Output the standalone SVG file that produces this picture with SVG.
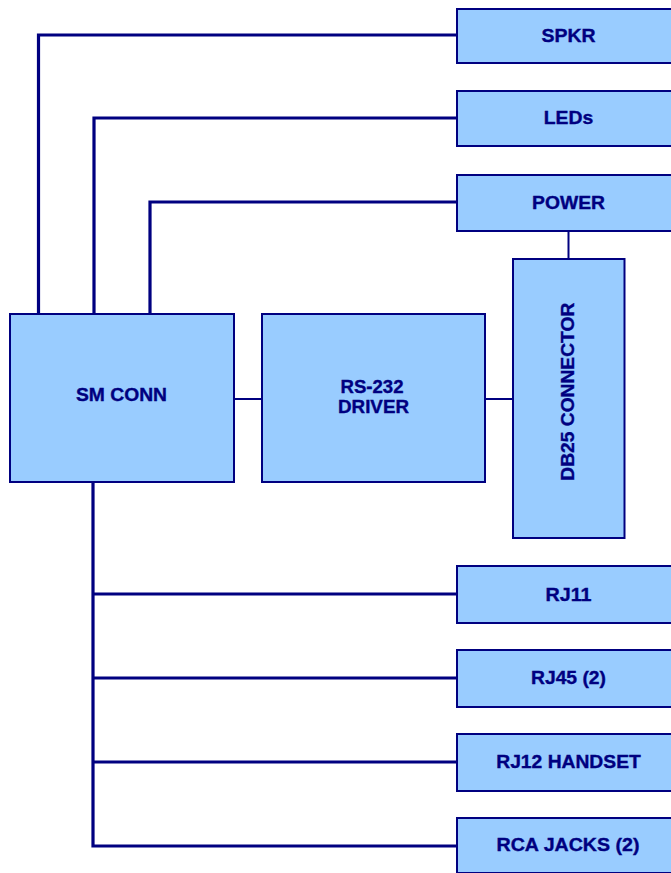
<svg xmlns="http://www.w3.org/2000/svg" width="671" height="873" viewBox="0 0 671 873">
<style>
.box{fill:#99CCFF;stroke:#000080;stroke-width:2}
.wire{fill:none;stroke:#000080;stroke-width:3.2;stroke-linejoin:miter;stroke-linecap:butt}
.lbl{font-family:"Liberation Sans",Arial,sans-serif;font-weight:bold;font-size:17.5px;fill:#000080;stroke:#000080;stroke-width:0.35;text-anchor:middle}
</style>
<rect width="671" height="873" fill="#ffffff"/>
<g id="connectors">
<path class="wire" d="M457,35 H38.5 V314"/>
<path class="wire" d="M457,118 H94 V314"/>
<path class="wire" d="M457,202 H150 V314"/>
<path class="wire" d="M568.5,231 V259" style="stroke-width:2"/>
<path class="wire" d="M234,399 H262" style="stroke-width:2"/>
<path class="wire" d="M485,399 H513" style="stroke-width:2"/>
<path class="wire" d="M93,482 V846 H457"/>
<path class="wire" d="M93,594 H457"/>
<path class="wire" d="M93,678 H457"/>
<path class="wire" d="M93,762 H457"/>
</g>
<g id="spkr"><rect class="box" x="457" y="9" width="230" height="54"/><text class="lbl" x="568.5" y="41.5" textLength="54" lengthAdjust="spacingAndGlyphs">SPKR</text></g>
<g id="leds"><rect class="box" x="457" y="91" width="230" height="55"/><text class="lbl" x="568.5" y="124" textLength="49.5" lengthAdjust="spacingAndGlyphs">LEDs</text></g>
<g id="power"><rect class="box" x="457" y="175" width="230" height="56"/><text class="lbl" x="568.5" y="209" textLength="73" lengthAdjust="spacingAndGlyphs">POWER</text></g>
<g id="smconn"><rect class="box" x="10" y="314" width="224" height="168"/><text class="lbl" x="121.5" y="401" textLength="91" lengthAdjust="spacingAndGlyphs">SM CONN</text></g>
<g id="rs232"><rect class="box" x="262" y="314" width="223" height="168"/><text class="lbl" x="372" y="392.5" textLength="63" lengthAdjust="spacingAndGlyphs">RS-232</text><text class="lbl" x="373.5" y="412.5" textLength="71" lengthAdjust="spacingAndGlyphs">DRIVER</text></g>
<g id="db25"><rect class="box" x="513" y="259" width="111.5" height="279"/><text class="lbl" transform="translate(574,391.7) rotate(-90)" x="0" y="0" textLength="178" lengthAdjust="spacingAndGlyphs">DB25 CONNECTOR</text></g>
<g id="rj11"><rect class="box" x="457" y="566" width="230" height="57"/><text class="lbl" x="568.5" y="600.5" textLength="46" lengthAdjust="spacingAndGlyphs">RJ11</text></g>
<g id="rj45"><rect class="box" x="457" y="650" width="230" height="57"/><text class="lbl" x="568.5" y="684" textLength="75" lengthAdjust="spacingAndGlyphs">RJ45 (2)</text></g>
<g id="rj12"><rect class="box" x="457" y="734" width="230" height="57"/><text class="lbl" x="568.5" y="768" textLength="144.5" lengthAdjust="spacingAndGlyphs">RJ12 HANDSET</text></g>
<g id="rca"><rect class="box" x="457" y="818" width="230" height="55"/><text class="lbl" x="568" y="851" textLength="143" lengthAdjust="spacingAndGlyphs">RCA JACKS (2)</text></g>
</svg>
